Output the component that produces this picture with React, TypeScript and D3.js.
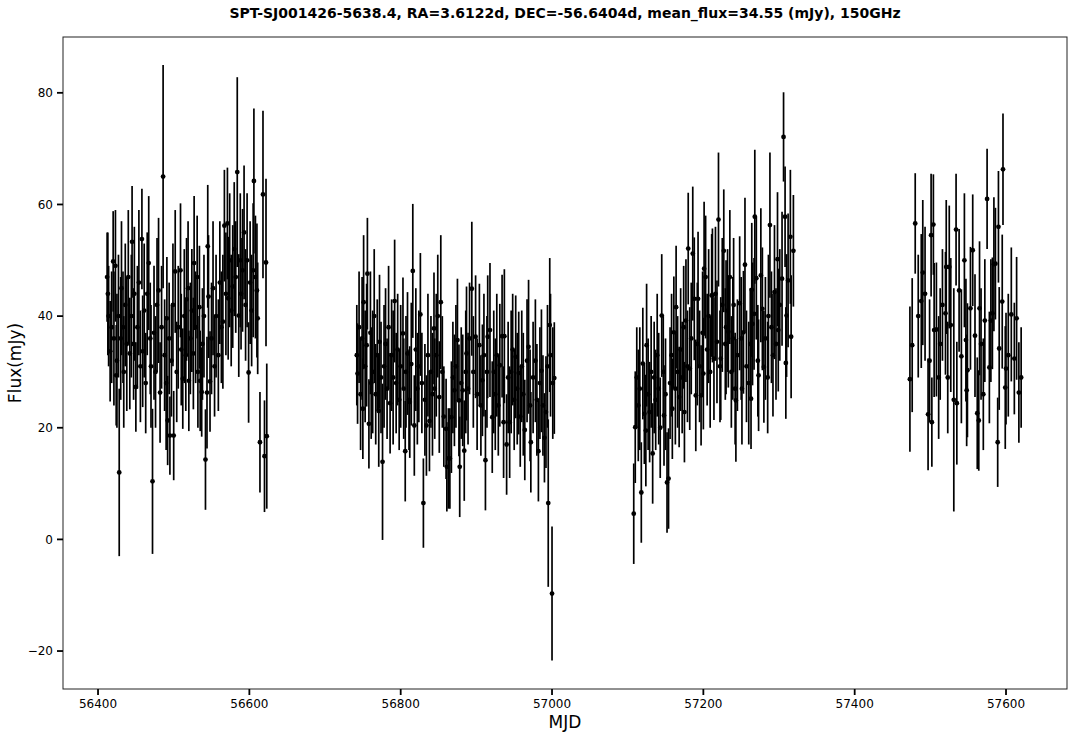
import React from 'react';
import * as d3 from 'd3';

// [MJD, flux (mJy), 1-sigma error] per observing season
const season1: [number, number, number][] = [
  [56412, 47, 8], [56413, 44, 11], [56414, 40, 9], [56416, 33.7, 9], [56418, 38, 10], [56420, 49.8, 9],
  [56421, 36, 12], [56423, 49, 10], [56424, 29.4, 9], [56425, 32, 12], [56427, 40, 11], [56428, 12, 15],
  [56430, 36, 11], [56431, 45, 12], [56433, 38, 10], [56434, 30, 10], [56436, 42, 11], [56438, 35, 12],
  [56440, 47, 12], [56442, 33.3, 10], [56444, 40, 11], [56445, 53.3, 10], [56447, 35, 10], [56448, 44, 12],
  [56450, 27.3, 8], [56452, 38, 11], [56454, 46, 13], [56456, 31, 10], [56458, 53.8, 9], [56459, 33.7, 10],
  [56461, 41, 12], [56463, 28, 9], [56465, 44, 11], [56467, 49.5, 12], [56469, 36, 10], [56470, 31, 11],
  [56472, 10.4, 13], [56474, 37, 12], [56476, 30, 10], [56478, 42, 12], [56480, 44.6, 13], [56482, 26.3, 9],
  [56484, 38, 11], [56486, 65, 20], [56488, 33, 10], [56490, 28, 12], [56491, 39.6, 11], [56492, 21.3, 8],
  [56494, 36, 10], [56495, 18.6, 7], [56497, 32, 10], [56499, 42, 11], [56500, 18.6, 8], [56502, 48, 11],
  [56504, 30, 9], [56506, 38, 11], [56509, 48.2, 12], [56510, 34, 10], [56512, 28.8, 9], [56514, 40, 12],
  [56516, 33, 10], [56517, 43, 11], [56519, 45, 12], [56520, 28.4, 9], [56522, 36, 10], [56524, 41, 11],
  [56526, 33.3, 10], [56527, 49.5, 12], [56529, 38, 10], [56531, 47, 11], [56532, 30, 10], [56534, 41.6, 11],
  [56535, 28.4, 9], [56537, 26.4, 8], [56538, 35, 10], [56540, 40, 11], [56542, 14.3, 9], [56544, 26.3, 10],
  [56545, 52.5, 11], [56546, 43.5, 11], [56548, 28.3, 9], [56550, 36, 10], [56552, 45, 12], [56554, 31, 9],
  [56556, 40, 11], [56559, 33, 10], [56561, 46, 11], [56563, 38, 10], [56565, 39, 12], [56567, 56.2, 10],
  [56569, 44, 11], [56571, 56.6, 10], [56572, 43.2, 11], [56574, 50, 12], [56576, 41, 10], [56578, 45.3, 11],
  [56580, 52, 12], [56582, 47, 10], [56584, 65.8, 17], [56586, 40.1, 11], [56588, 50, 12], [56589, 44, 10],
  [56591, 48.2, 11], [56593, 55, 12], [56595, 42, 10], [56597, 50, 12], [56599, 29.9, 9], [56601, 46, 11],
  [56603, 41, 10], [56605, 48.2, 12], [56606, 64.2, 13], [56608, 47, 11], [56610, 44.6, 12], [56611, 39.6, 10],
  [56614, 17.4, 9], [56618, 61.8, 15], [56620, 14.9, 10], [56622, 49.6, 15], [56623, 18.5, 13],
];

const season2: [number, number, number][] = [
  [56742, 33, 9], [56743, 29.7, 9], [56745, 38, 10], [56747, 26, 10], [56749, 36, 11], [56750, 23.4, 9],
  [56751, 42.5, 12], [56753, 31, 10], [56755, 34.8, 11], [56756, 47.6, 10], [56758, 20.7, 8], [56760, 37, 11],
  [56761, 28, 10], [56763, 30, 11], [56765, 40, 12], [56767, 26, 9], [56769, 33, 10], [56771, 23, 10],
  [56772, 35.4, 12], [56774, 29, 10], [56776, 13.9, 14], [56778, 31, 11], [56780, 35, 10], [56782, 27, 9],
  [56784, 38, 11], [56786, 24.4, 9], [56788, 33, 10], [56790, 29, 12], [56792, 42.7, 11], [56794, 28, 9],
  [56796, 34, 10], [56798, 25, 9], [56800, 31, 11], [56803, 36.9, 10], [56804, 27, 9], [56806, 15.8, 9],
  [56807, 30, 10], [56809, 33.3, 11], [56811, 25, 9], [56812, 24.6, 10], [56814, 31.4, 11], [56816, 48.1, 12],
  [56818, 20.4, 9], [56820, 34, 11], [56822, 27, 10], [56824, 31, 10], [56826, 40.3, 11], [56828, 28, 9],
  [56830, 6.5, 8], [56832, 25, 10], [56834, 20.4, 9], [56836, 33, 11], [56838, 21.2, 9], [56840, 30, 10],
  [56842, 26, 11], [56844, 37.8, 10], [56845, 27, 9], [56847, 33, 11], [56849, 40, 11], [56851, 25.5, 10],
  [56853, 42.5, 12], [56855, 30, 10], [56857, 22, 9], [56860, 19.8, 9], [56861, 13, 8], [56863, 14.5, 9],
  [56865, 14.5, 9], [56867, 21.9, 10], [56869, 29, 10], [56871, 26.7, 10], [56873, 31, 11], [56875, 35.7, 11],
  [56877, 24.9, 10], [56878, 13, 9], [56880, 28, 10], [56882, 26.7, 10], [56884, 15.9, 9], [56886, 30, 11],
  [56887, 33.3, 12], [56889, 27, 10], [56891, 36, 10], [56894, 44.9, 12], [56896, 30, 10], [56899, 36.3, 11],
  [56901, 26, 10], [56904, 34.8, 11], [56906, 24, 9], [56908, 28.5, 10], [56910, 33, 11], [56912, 14.2, 9],
  [56914, 30, 10], [56915, 36.3, 11], [56918, 37.5, 12], [56921, 21.9, 10], [56923, 30, 11], [56925, 26, 10],
  [56927, 33, 11], [56929, 24, 9], [56931, 31.2, 11], [56934, 36.4, 11], [56936, 21, 10], [56937, 36.4, 12],
  [56940, 17, 9], [56942, 29, 10], [56944, 21, 10], [56946, 30, 11], [56948, 34, 10], [56950, 25, 9],
  [56952, 32.7, 11], [56954, 27, 10], [56956, 29.8, 11], [56958, 22, 9], [56960, 31, 10], [56962, 26, 11],
  [56964, 19.6, 9], [56967, 32, 11], [56969, 34.5, 12], [56971, 24, 10], [56972, 17.4, 9], [56975, 29, 10],
  [56978, 32, 11], [56980, 25, 10], [56982, 15.8, 9], [56984, 28, 10], [56986, 30.2, 11], [56988, 24, 9],
  [56990, 18.2, 8], [56992, 22.8, 10], [56994, 31, 11], [56995, 6.5, 15], [56997, 38.4, 12], [56998, 33, 11],
  [57000, -9.7, 12], [57001, 28, 10], [57003, 28.9, 10],
];

const season3: [number, number, number][] = [
  [57108, 4.6, 9], [57110, 20.1, 10], [57112, 29, 9], [57114, 24, 10], [57116, 27, 11], [57118, 8.4, 9],
  [57120, 31.5, 10], [57122, 22.5, 9], [57124, 19.5, 10], [57125, 34.8, 11], [57127, 26, 10], [57129, 22.8, 9],
  [57131, 30, 10], [57133, 15.4, 9], [57135, 29, 10], [57137, 25, 9], [57139, 33, 11], [57141, 27, 10],
  [57143, 20, 9], [57145, 40.1, 11], [57147, 30, 10], [57148, 22.2, 9], [57150, 26, 10], [57152, 10.2, 9],
  [57154, 10.9, 9], [57156, 28, 10], [57158, 33, 11], [57159, 23.4, 9], [57161, 37.1, 10], [57163, 27, 10],
  [57164, 41.6, 11], [57166, 30, 10], [57168, 25.5, 9], [57170, 34, 11], [57172, 29, 10], [57174, 38, 11],
  [57175, 22.8, 9], [57177, 39.2, 11], [57179, 31, 10], [57180, 52.1, 10], [57182, 30.6, 11], [57184, 36, 10],
  [57186, 51.2, 12], [57188, 43.1, 11], [57190, 25.8, 10], [57192, 35, 11], [57193, 43.1, 12], [57195, 31, 10],
  [57197, 25.8, 9], [57199, 37, 11], [57200, 29.7, 10], [57201, 48.5, 12], [57203, 47, 11], [57205, 34, 10],
  [57207, 40, 12], [57209, 30, 10], [57211, 43.7, 11], [57212, 43.7, 12], [57214, 32.4, 11], [57216, 44, 12],
  [57218, 35.4, 11], [57220, 57.3, 12], [57222, 31, 10], [57223, 32.4, 11], [57225, 42, 12], [57227, 51.7, 11],
  [57229, 35, 10], [57230, 38, 12], [57232, 41, 11], [57233, 37.2, 10], [57235, 47, 12], [57237, 30, 10],
  [57239, 36, 11], [57240, 42, 12], [57242, 27, 10], [57243, 24.9, 11], [57245, 33, 10], [57248, 42.3, 12],
  [57250, 36, 11], [57251, 27, 10], [57253, 37.1, 11], [57255, 49.2, 12], [57257, 31, 10], [57260, 28, 11],
  [57262, 35, 10], [57263, 25.2, 9], [57264, 44.7, 12], [57265, 38.6, 11], [57267, 40.4, 10], [57268, 57.8, 12],
  [57270, 46.8, 11], [57272, 32, 10], [57273, 29.4, 10], [57276, 47.3, 12], [57278, 41.3, 11], [57280, 30.9, 10],
  [57282, 36, 11], [57285, 29, 10], [57286, 40, 11], [57288, 56.3, 13], [57290, 38, 10], [57292, 33, 11],
  [57294, 44.3, 12], [57296, 35, 10], [57298, 50.2, 12], [57299, 37.5, 11], [57301, 42, 10], [57304, 46.7, 12],
  [57306, 72.1, 8], [57308, 57.8, 9], [57309, 31.6, 10], [57310, 40.1, 11], [57312, 46.4, 12], [57315, 54.2, 12],
  [57316, 36.3, 11], [57319, 51.7, 10],
];

const season4: [number, number, number][] = [
  [57473, 28.7, 13], [57476, 34.8, 12], [57480, 56.6, 9], [57484, 40, 11], [57488, 42.7, 12], [57490, 47.8, 13],
  [57493, 44, 12], [57497, 22.4, 10], [57499, 32, 11], [57501, 54.5, 11], [57502, 21, 8], [57504, 56.4, 9],
  [57505, 37.5, 12], [57508, 37.6, 12], [57511, 29, 11], [57513, 35, 10], [57516, 42, 10], [57520, 40.5, 11],
  [57521, 48.8, 12], [57523, 29, 10], [57525, 48.8, 11], [57527, 38.4, 12], [57531, 25, 20], [57534, 55.5, 10],
  [57535, 24.4, 11], [57538, 44.6, 11], [57541, 32.8, 12], [57545, 50, 12], [57547, 35.7, 11], [57548, 26.7, 10],
  [57549, 30.3, 12], [57553, 41.4, 11], [57556, 51.8, 10], [57559, 36.5, 11], [57562, 22.6, 10], [57564, 21.3, 9],
  [57565, 41.4, 12], [57567, 35, 10], [57570, 26, 10], [57572, 39.2, 11], [57575, 61, 9], [57578, 30.8, 10],
  [57580, 39.2, 11], [57582, 40.5, 10], [57584, 49.3, 12], [57586, 49.4, 10], [57589, 17.4, 8], [57590, 56, 10],
  [57591, 34.2, 11], [57595, 42.6, 12], [57596, 66.3, 10], [57599, 27.2, 11], [57600, 30.6, 10], [57603, 33, 11],
  [57607, 40.3, 12], [57611, 32.4, 10], [57614, 39.6, 11], [57617, 26.3, 9], [57620, 29, 9],
];

const xTicks = [56400, 56600, 56800, 57000, 57200, 57400, 57600];
const yTicks = [-20, 0, 20, 40, 60, 80];
const title = 'SPT-SJ001426-5638.4, RA=3.6122d, DEC=-56.6404d, mean_flux=34.55 (mJy), 150GHz';

const W = 1081;
const H = 739;
const left = 63, right = 1067, top = 37, bottom = 689;
const font = 'DejaVu Sans, sans-serif';

const App = () => {
  const x = d3.scaleLinear().domain([56353.7, 57680.6]).range([left, right]);
  const y = d3.scaleLinear().domain([-26.8, 90.0]).range([bottom, top]);
  const points = [...season1, ...season2, ...season3, ...season4];
  const fmt = (v: number) => (v < 0 ? '\u2212' + Math.abs(v) : String(v));

  return (
    <svg width={W} height={H} style={{ position: 'absolute', left: 0, top: 0, background: '#fff' }}>
      <rect x={0} y={0} width={W} height={H} fill="#fff" />
      <text x={(left + right) / 2} y={18} textAnchor="middle" fontFamily={font} fontWeight="bold" fontSize={14}>
        {title}
      </text>
      <g>
        {points.map(([m, f, e], i) => (
          <line key={`e${i}`} x1={x(m)} x2={x(m)} y1={y(f - e)} y2={y(f + e)} stroke="#000" strokeWidth={1.7} />
        ))}
        {points.map(([m, f], i) => (
          <circle key={`p${i}`} cx={x(m)} cy={y(f)} r={2.4} fill="#000" />
        ))}
      </g>
      <rect x={left} y={top} width={right - left} height={bottom - top} fill="none" stroke="#222" strokeWidth={1} />
      {xTicks.map((t) => (
        <g key={`x${t}`} transform={`translate(${x(t)},${bottom})`}>
          <line y1={0} y2={6} stroke="#000" strokeWidth={1.8} />
          <text y={19} textAnchor="middle" fontFamily={font} fontSize={12}>{t}</text>
        </g>
      ))}
      {yTicks.map((t) => (
        <g key={`y${t}`} transform={`translate(${left},${y(t)})`}>
          <line x1={0} x2={-6} stroke="#000" strokeWidth={1.8} />
          <text x={-10} dy="0.35em" textAnchor="end" fontFamily={font} fontSize={12}>{fmt(t)}</text>
        </g>
      ))}
      <text x={(left + right) / 2} y={728} textAnchor="middle" fontFamily={font} fontSize={17}>MJD</text>
      <text transform={`translate(21,${(top + bottom) / 2}) rotate(-90)`} textAnchor="middle" fontFamily={font} fontSize={17}>
        Flux(mJy)
      </text>
    </svg>
  );
};

export default App;
